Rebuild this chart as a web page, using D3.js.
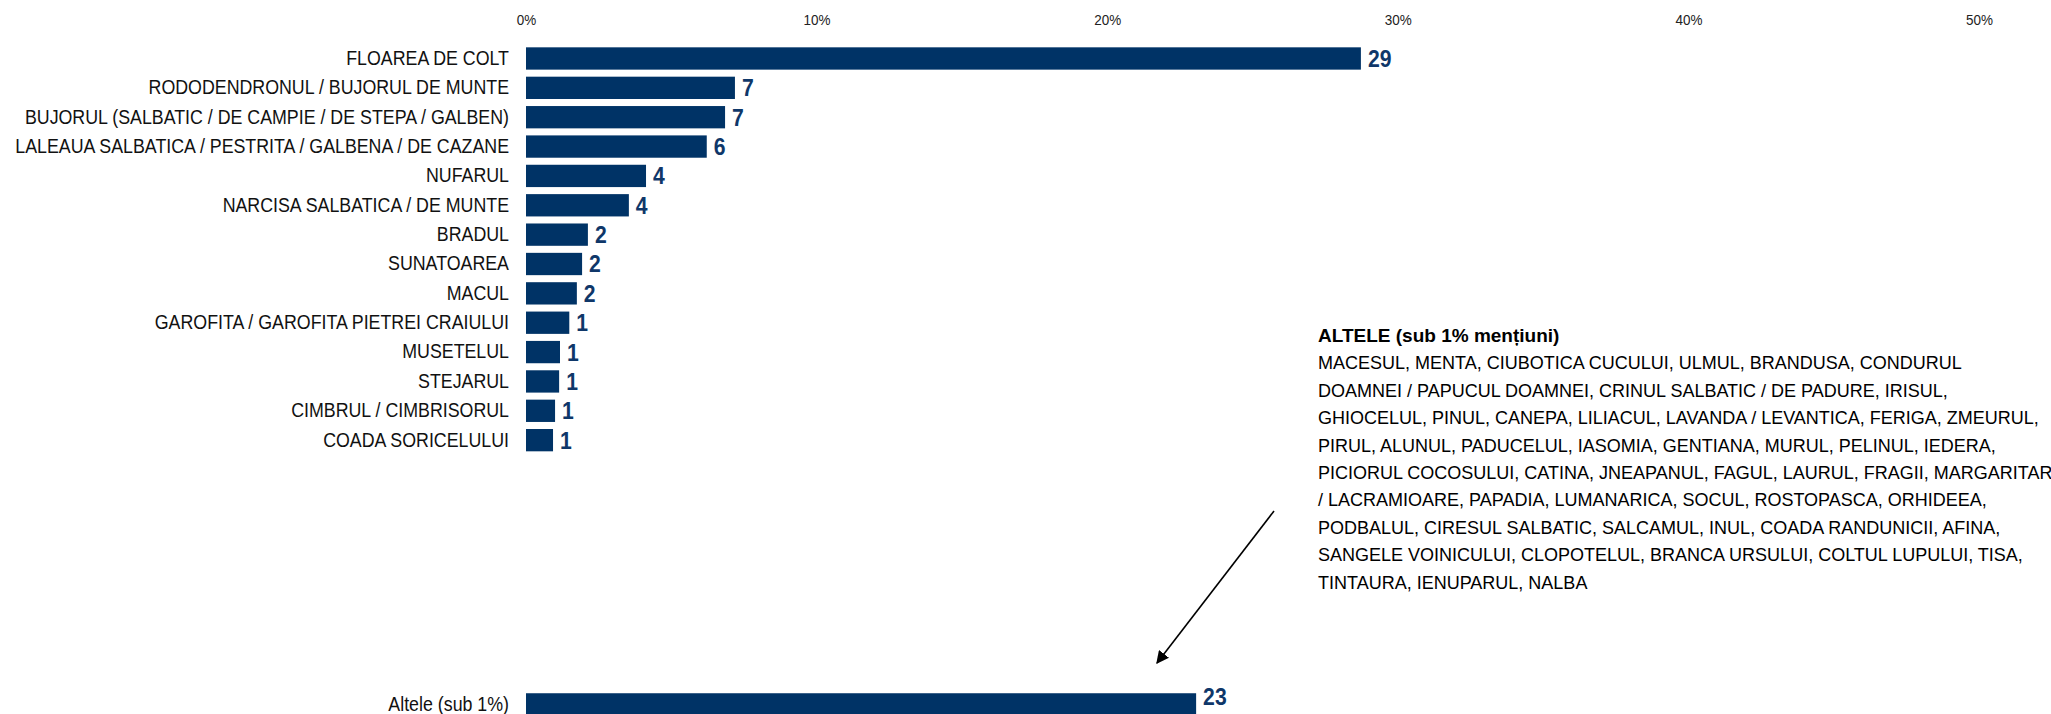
<!DOCTYPE html>
<html>
<head>
<meta charset="utf-8">
<script src="https://cdn.jsdelivr.net/npm/d3@7"></script>
<style>
  html, body { margin: 0; padding: 0; background: #fff; overflow: hidden; }
  svg { display: block; }
  text { font-family: "Liberation Sans", Arial, sans-serif; }
</style>
</head>
<body>
<svg id="chart" width="2051" height="714"></svg>
<script>
// ---------- data ----------
const categories = [
  "FLOAREA DE COLT",
  "RODODENDRONUL / BUJORUL DE MUNTE",
  "BUJORUL (SALBATIC / DE CAMPIE / DE STEPA / GALBEN)",
  "LALEAUA SALBATICA / PESTRITA / GALBENA / DE CAZANE",
  "NUFARUL",
  "NARCISA SALBATICA / DE MUNTE",
  "BRADUL",
  "SUNATOAREA",
  "MACUL",
  "GAROFITA / GAROFITA PIETREI CRAIULUI",
  "MUSETELUL",
  "STEJARUL",
  "CIMBRUL / CIMBRISORUL",
  "COADA SORICELULUI"
];
const values = [28.73, 7.19, 6.85, 6.22, 4.13, 3.54, 2.13, 1.93, 1.75, 1.49, 1.17, 1.14, 1.0, 0.93];
const otherCategory = "Altele (sub 1%)";
const otherValue = 23.06;
const xTicks = [0, 10, 20, 30, 40, 50];
const noteTitle = "ALTELE (sub 1% mențiuni)";
const noteLines = [
  "MACESUL, MENTA, CIUBOTICA CUCULUI, ULMUL, BRANDUSA, CONDURUL",
  "DOAMNEI / PAPUCUL DOAMNEI, CRINUL SALBATIC / DE PADURE, IRISUL,",
  "GHIOCELUL, PINUL, CANEPA, LILIACUL, LAVANDA / LEVANTICA, FERIGA, ZMEURUL,",
  "PIRUL, ALUNUL, PADUCELUL, IASOMIA, GENTIANA, MURUL, PELINUL, IEDERA,",
  "PICIORUL COCOSULUI, CATINA, JNEAPANUL, FAGUL, LAURUL, FRAGII, MARGARITAR",
  "/ LACRAMIOARE, PAPADIA, LUMANARICA, SOCUL, ROSTOPASCA, ORHIDEEA,",
  "PODBALUL, CIRESUL SALBATIC, SALCAMUL, INUL, COADA RANDUNICII, AFINA,",
  "SANGELE VOINICULUI, CLOPOTELUL, BRANCA URSULUI, COLTUL LUPULUI, TISA,",
  "TINTAURA, IENUPARUL, NALBA"
];

// ---------- layout ----------
const gapRows = 8;
const barColor = "#003366";
const valueColor = "#0f3769";
const catSX = 0.89, tickSX = 0.93, valSX = 0.9, noteSX = 1.0;
const H = 714;

const rows = categories.map((c, i) => ({ key: "c" + i, name: c, value: values[i] }));
const gaps = d3.range(gapRows).map(i => ({ key: "g" + i, name: "", value: null }));
const other = { key: "other", name: otherCategory, value: otherValue };
const allRows = rows.concat(gaps, [other]);
const dataRows = rows.concat([other]);

const svg = d3.select("#chart");

const x = d3.scaleLinear().domain([0, 50]).range([526, 1979]);
const y = d3.scaleBand()
  .domain(allRows.map(d => d.key))
  .range([43.8, 43.8 + allRows.length * 29.36])
  .paddingInner(0.24)
  .paddingOuter(0.12);

const nameByKey = new Map(allRows.map(d => [d.key, d.name]));

// x axis (top)
const xAxis = svg.append("g")
  .attr("transform", "translate(0,25)")
  .call(d3.axisTop(x).tickValues(xTicks).tickSize(0).tickPadding(0).tickFormat(d => d + "%"));
xAxis.select(".domain").remove();
xAxis.selectAll("text")
  .attr("transform", `scale(${tickSX},1)`)
  .style("font-family", "'Liberation Sans', Arial, sans-serif")
  .style("font-size", "14.5px")
  .style("fill", "#222");

// y axis (left)
const pad = 17;
const yAxis = svg.append("g")
  .attr("transform", "translate(526,0)")
  .call(d3.axisLeft(y).tickSize(0).tickPadding(pad).tickFormat(k => nameByKey.get(k)));
yAxis.select(".domain").remove();
yAxis.selectAll("text")
  .attr("x", -pad / catSX)
  .attr("transform", `scale(${catSX},1)`)
  .style("font-family", "'Liberation Sans', Arial, sans-serif")
  .style("font-size", "20px")
  .style("fill", "#111");

// bars
svg.append("g").selectAll("rect")
  .data(dataRows)
  .join("rect")
  .attr("x", x(0))
  .attr("y", d => y(d.key))
  .attr("width", d => x(d.value) - x(0))
  .attr("height", y.bandwidth())
  .attr("fill", barColor);

// value labels (kept inside the picture)
svg.append("g").selectAll("text")
  .data(dataRows)
  .join("text")
  .attr("transform", d => {
    const cy = Math.min(y(d.key) + y.bandwidth() / 2, H - 17);
    return `translate(${x(d.value) + 7},${cy}) scale(${valSX},1)`;
  })
  .attr("dy", "0.36em")
  .style("font-size", "23.5px")
  .style("font-weight", "bold")
  .style("fill", valueColor)
  .text(d => d3.format(".0f")(d.value));

// annotation
const note = svg.append("g").attr("transform", `translate(1318,0) scale(${noteSX},1)`);
note.append("text")
  .attr("x", 0)
  .attr("y", 335)
  .attr("dy", "0.35em")
  .style("font-size", "19px")
  .style("font-weight", "bold")
  .style("fill", "#000")
  .text(noteTitle);
note.selectAll("text.line")
  .data(noteLines)
  .join("text")
  .attr("class", "line")
  .attr("x", 0)
  .attr("y", (d, i) => 363 + i * 27.4)
  .attr("dy", "0.35em")
  .style("font-size", "18px")
  .style("fill", "#000")
  .text(d => d);

// arrow
svg.append("defs").append("marker")
  .attr("id", "arrowhead")
  .attr("viewBox", "0 0 10 10")
  .attr("refX", 9)
  .attr("refY", 5)
  .attr("markerWidth", 8)
  .attr("markerHeight", 8)
  .attr("orient", "auto")
  .append("path")
  .attr("d", "M0,0 L10,5 L0,10 Z")
  .attr("fill", "#000");
svg.append("line")
  .attr("x1", 1274).attr("y1", 511)
  .attr("x2", 1157).attr("y2", 663)
  .attr("stroke", "#000")
  .attr("stroke-width", 1.6)
  .attr("marker-end", "url(#arrowhead)");
</script>
</body>
</html>
